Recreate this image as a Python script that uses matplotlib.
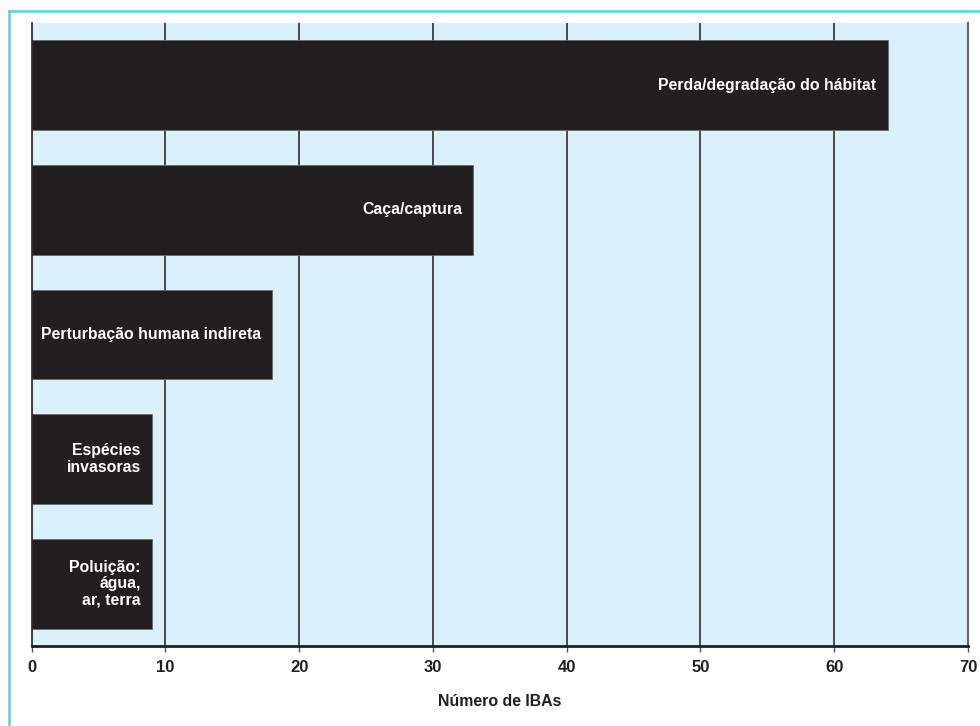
import matplotlib
matplotlib.use('Agg')
import matplotlib.pyplot as plt
from matplotlib.lines import Line2D

# data, top to bottom as drawn
categories = [
    'Perda/degradação do hábitat',
    'Caça/captura',
    'Perturbação humana indireta',
    'Espécies\ninvasoras',
    'Poluição:\nágua,\nar, terra',
]
n_ibas = [64, 33, 18, 9, 9]
x_ticks = [0, 10, 20, 30, 40, 50, 60, 70]
x_label = 'Número de IBAs'

bar_color = '#231f20'
bg_color = '#daf0fb'
frame_color = '#5ccbf0'

plt.rcParams['font.family'] = ['Liberation Sans', 'DejaVu Sans']

fig = plt.figure(figsize=(9.8, 7.26), dpi=100)
W, H = 980, 726
ax = fig.add_axes([31.5 / W, (H - 646) / H, (968 - 31.5) / W, (646 - 23) / H])
ax.set_facecolor(bg_color)

# outer light-blue frame (only top and left visible)
fig.add_artist(Line2D([8.5 / W, 8.5 / W], [0, 1 - 11 / H],
                      transform=fig.transFigure, color=frame_color, lw=1.8))
fig.add_artist(Line2D([8.5 / W, 1], [1 - 11 / H, 1 - 11 / H],
                      transform=fig.transFigure, color=frame_color, lw=1.8))

pos = list(range(len(categories)))[::-1]
for x in x_ticks[1:-1]:
    ax.axvline(x, color='#231f20', lw=1.1, zorder=1)

bars = ax.barh(pos, n_ibas, height=0.72, color=bar_color,
               edgecolor='#6a6a6a', linewidth=0.6, zorder=2)

for p, val, lab in zip(pos, n_ibas, categories):
    ax.annotate(lab, xy=(val, p), xytext=(-8, 0), textcoords='offset points',
                ha='right', va='center', multialignment='right',
                color='white', fontsize=11.4, fontweight='bold',
                linespacing=1.12, zorder=3)

ax.set_xlim(0, 70)
ax.set_ylim(-0.5, 4.5)
ax.set_xticks(x_ticks)
ax.set_yticks([])
ax.tick_params(axis='x', length=4, width=1, color='#555555', pad=6,
               labelsize=12, labelcolor='#231f20')
for lab in ax.get_xticklabels():
    lab.set_fontweight('bold')

ax.spines['top'].set_visible(False)
ax.spines['left'].set_color('#231f20')
ax.spines['left'].set_linewidth(1.2)
ax.spines['right'].set_color('#666666')
ax.spines['right'].set_linewidth(1.5)
ax.spines['bottom'].set_color('#231f20')
ax.spines['bottom'].set_linewidth(2)

ax.set_xlabel(x_label, fontsize=11.4, fontweight='bold', color='#231f20',
              labelpad=14)

fig.savefig('out.png', dpi=100, facecolor='white')
